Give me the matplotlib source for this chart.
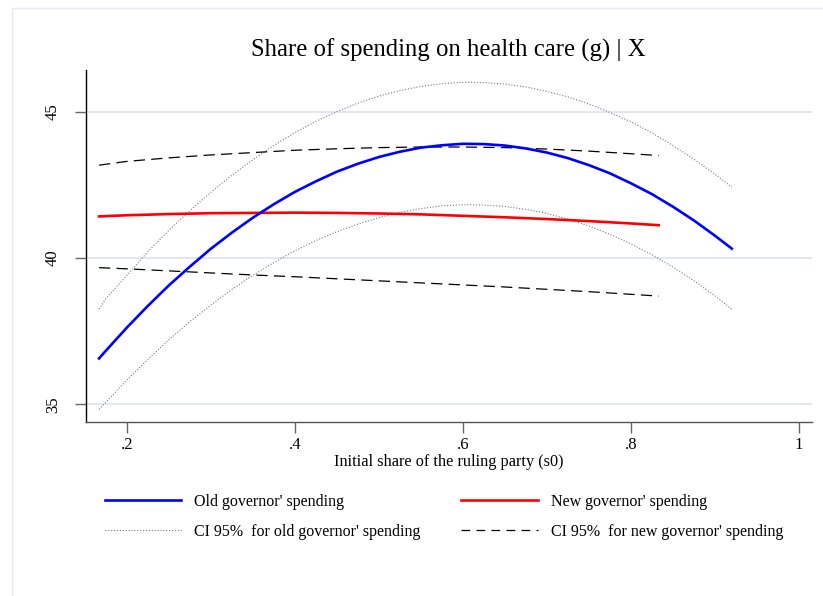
import matplotlib
matplotlib.use("Agg")
import matplotlib.pyplot as plt
from matplotlib.lines import Line2D
from matplotlib.patches import Rectangle

# Initial share of the ruling party (s0) at which the fitted values are shown
s0_old = [0.1667, 0.175, 0.200, 0.225, 0.250, 0.275, 0.300, 0.325, 0.350, 0.375,
          0.400, 0.425, 0.450, 0.475, 0.500, 0.525, 0.550, 0.575, 0.600, 0.625,
          0.650, 0.675, 0.700, 0.725, 0.750, 0.775, 0.800, 0.825, 0.850, 0.875,
          0.900, 0.920]
s0_new = [0.1667, 0.20, 0.25, 0.30, 0.35, 0.40, 0.45, 0.50, 0.55, 0.60,
          0.65, 0.70, 0.75, 0.80, 0.833]

# Old governor: fitted share and 95% CI
old_fit = [36.57, 36.84, 37.63, 38.37, 39.07, 39.71, 40.32, 40.87, 41.38, 41.84,
           42.26, 42.62, 42.95, 43.22, 43.45, 43.63, 43.77, 43.85, 43.90, 43.89,
           43.84, 43.74, 43.60, 43.41, 43.17, 42.89, 42.55, 42.18, 41.75, 41.28,
           40.76, 40.32]
old_hi = [38.25, 38.62, 39.41, 40.22, 40.95, 41.62, 42.25, 42.83, 43.36, 43.85,
          44.28, 44.67, 45.00, 45.29, 45.53, 45.72, 45.86, 45.95, 46.00, 45.99,
          45.94, 45.84, 45.69, 45.50, 45.26, 44.97, 44.65, 44.27, 43.84, 43.37,
          42.86, 42.42]
old_lo = [34.83, 35.08, 35.84, 36.54, 37.21, 37.83, 38.40, 38.93, 39.41, 39.85,
          40.25, 40.60, 40.90, 41.16, 41.38, 41.56, 41.69, 41.78, 41.82, 41.81,
          41.76, 41.66, 41.52, 41.33, 41.09, 40.81, 40.48, 40.11, 39.69, 39.22,
          38.71, 38.25]

# New governor: fitted share and 95% CI
new_fit = [41.42, 41.46, 41.50, 41.53, 41.54, 41.55, 41.54, 41.52, 41.49, 41.44,
           41.39, 41.33, 41.26, 41.18, 41.12]
new_hi = [43.17, 43.30, 43.42, 43.52, 43.60, 43.68, 43.73, 43.77, 43.79, 43.79,
          43.77, 43.72, 43.65, 43.56, 43.50]
new_lo = [39.67, 39.63, 39.56, 39.49, 39.42, 39.36, 39.29, 39.22, 39.15, 39.08,
          39.01, 38.93, 38.85, 38.76, 38.70]

x_ticks = [0.2, 0.4, 0.6, 0.8, 1.0]
x_ticklabels = [".2", ".4", ".6", ".8", "1"]
y_ticks = [35, 40, 45]
y_ticklabels = ["35", "40", "45"]

labels = ["Old governor' spending", "New governor' spending",
          "CI 95%  for old governor' spending", "CI 95%  for new governor' spending"]

plt.rcParams["font.family"] = ["Liberation Serif", "DejaVu Serif"]

fig = plt.figure(figsize=(8.23, 5.96), dpi=100)
fig.patch.set_facecolor("white")

# thin outer frame of the graph region
fig.add_artist(Rectangle((12 / 823, -0.1), 2.0, 1 - 8 / 596 + 0.1,
                         transform=fig.transFigure, fill=False,
                         edgecolor="#e6e8f2", linewidth=1.0))

ax = fig.add_axes([85.7 / 823, 1 - 421.7 / 596, (811.7 - 85.7) / 823, (421.7 - 70) / 596])
ax.set_xlim(0.1508, 1.0151)
ax.set_ylim(34.41, 46.42)

for y in y_ticks:
    ax.axhline(y, color="#e1e5f1", linewidth=1.3, zorder=0)

grey_dot = "#7a7a7a"
dot_style = (0, (1, 1.6))
dash_style = (0, (9, 5))
ax.plot(s0_old, old_hi, linestyle=dot_style, color=grey_dot, linewidth=0.8)
ax.plot(s0_old, old_lo, linestyle=dot_style, color=grey_dot, linewidth=0.8)
ax.plot(s0_new, new_hi, linestyle=dash_style, color="black", linewidth=0.9)
ax.plot(s0_new, new_lo, linestyle=dash_style, color="black", linewidth=0.9)
ax.plot(s0_new, new_fit, color="#ff0000", linewidth=1.9)
ax.plot(s0_old, old_fit, color="#0000ff", linewidth=1.9)

for side in ("top", "right"):
    ax.spines[side].set_visible(False)
ax.spines["left"].set_color("black")
ax.spines["left"].set_linewidth(1.0)
ax.spines["bottom"].set_color("#555555")
ax.spines["bottom"].set_linewidth(1.0)

ax.set_xticks(x_ticks)
ax.set_xticklabels(x_ticklabels)
ax.set_yticks(y_ticks)
ax.set_yticklabels(y_ticklabels, rotation=90, va="center")
ax.tick_params(axis="both", direction="out", length=8, width=1.0,
               color="#666666", labelsize=12, pad=3)
ax.tick_params(axis="y", pad=10)

ax.set_xlabel("Initial share of the ruling party (s0)", fontsize=11.7, labelpad=1)
fig.text(0.5 * (85.7 + 811.7) / 823, 1 - 50 / 596,
         "Share of spending on health care (g) | X",
         ha="center", va="center", fontsize=17.8)

handles = [
    Line2D([], [], color="#0000ff", linewidth=1.9),
    Line2D([], [], color="#ff0000", linewidth=1.9),
    Line2D([], [], color=grey_dot, linestyle=dot_style, linewidth=0.8),
    Line2D([], [], color="black", linestyle=(0, (7, 5)), linewidth=0.9),
]
order = [0, 2, 1, 3]
fig.legend([handles[i] for i in order], [labels[i] for i in order],
           ncol=2, loc="upper left", bbox_to_anchor=(100 / 823, 1 - 489 / 596),
           frameon=False, fontsize=11.5, handlelength=4.8, handletextpad=0.8,
           columnspacing=2.55, labelspacing=0.88, borderaxespad=0, borderpad=0.3)

fig.savefig("out.png", dpi=100, facecolor="white")
